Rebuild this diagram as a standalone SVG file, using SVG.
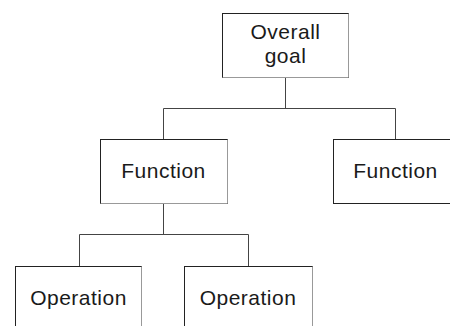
<svg xmlns="http://www.w3.org/2000/svg" width="450" height="326" viewBox="0 0 450 326">
<style>
.box{fill:#fff;stroke:#222;stroke-width:1}
.sh{fill:none;stroke:#999;stroke-width:1}
.lbl{font-family:"Liberation Sans",Arial,sans-serif;font-size:21px;fill:#1a1a1a;text-anchor:middle;letter-spacing:0.5px}
.ln{fill:none;stroke:#444;stroke-width:1}
</style>
<rect width="450" height="326" fill="#fff"/>
<g id="connectors">
<path class="ln" d="M285.5,77.5V108.5M163.5,108.5H395.5M163.5,108.5V139.5M395.5,108.5V139.5"/>
<path class="ln" d="M163.5,203.5V234.5M79.5,234.5H248.5M79.5,234.5V266.5M248.5,234.5V266.5"/>
</g>
<g id="goal">
<rect class="box" x="222.5" y="13.5" width="126" height="64"/>
<path class="sh" d="M348.5,13.5V77.5H222.5"/>
<text class="lbl" x="285.5" y="39">Overall</text>
<text class="lbl" x="285.5" y="63">goal</text>
</g>
<g id="function1">
<rect class="box" x="100.5" y="139.5" width="127" height="64"/>
<path class="sh" d="M227.5,139.5V203.5H100.5"/>
<text class="lbl" x="163.5" y="178">Function</text>
</g>
<g id="function2">
<rect class="box" x="333.5" y="139.5" width="130" height="64"/>
<text class="lbl" x="395.5" y="178">Function</text>
</g>
<g id="operation1">
<rect class="box" x="15.5" y="266.5" width="126" height="80"/>
<path class="sh" d="M141.5,266.5V330"/>
<text class="lbl" x="78.5" y="305">Operation</text>
</g>
<g id="operation2">
<rect class="box" x="184.5" y="266.5" width="128" height="80"/>
<path class="sh" d="M312.5,266.5V330"/>
<text class="lbl" x="248" y="305">Operation</text>
</g>
</svg>
